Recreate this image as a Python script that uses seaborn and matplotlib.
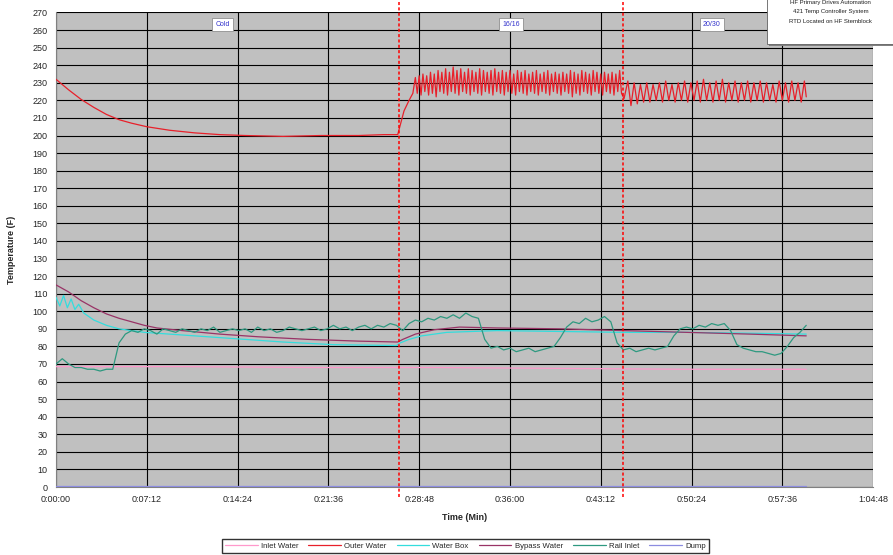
import matplotlib
matplotlib.use("Agg")
import pandas as pd
import seaborn as sns
import matplotlib.pyplot as plt
from matplotlib.patches import Rectangle

# times are in minutes
inlet_t = [0, 10, 20, 30, 40, 50, 59.5]
inlet_v = [68.5, 68.5, 68, 68, 67.5, 67, 67]

outer_a_t = [0, 1, 2, 3, 4, 5, 6, 7.2, 9, 11, 13, 15, 18, 21, 24, 26, 27.1]
outer_a_v = [232, 226, 220.5, 216, 212, 209, 207, 205, 203, 201.5, 200.5, 200,
             199.5, 200, 200, 200.5, 200.5]
# 16/16 cycling
outer_b_t = [27.3, 27.6, 28.0, 28.3,
             28.5, 28.65, 28.8, 28.95, 29.1, 29.25, 29.4, 29.55, 29.7, 29.85,
             30.0, 30.15, 30.3, 30.45, 30.6, 30.75, 30.9, 31.05, 31.2, 31.35,
             31.5, 31.65, 31.8, 31.95, 32.1, 32.25, 32.4, 32.55, 32.7, 32.85,
             33.0, 33.15, 33.3, 33.45, 33.6, 33.75, 33.9, 34.05, 34.2, 34.35,
             34.5, 34.65, 34.8, 34.95, 35.1, 35.25, 35.4, 35.55, 35.7, 35.85,
             36.0, 36.15, 36.3, 36.45, 36.6, 36.75, 36.9, 37.05, 37.2, 37.35,
             37.5, 37.65, 37.8, 37.95, 38.1, 38.25, 38.4, 38.55, 38.7, 38.85,
             39.0, 39.15, 39.3, 39.45, 39.6, 39.75, 39.9, 40.05, 40.2, 40.35,
             40.5, 40.65, 40.8, 40.95, 41.1, 41.25, 41.4, 41.55, 41.7, 41.85,
             42.0, 42.15, 42.3, 42.45, 42.6, 42.75, 42.9, 43.05, 43.2, 43.35,
             43.5, 43.65, 43.8, 43.95, 44.1, 44.25, 44.4, 44.55, 44.7, 44.85,
             45.05]
outer_b_v = [206, 214, 220, 224,
             233, 224, 234, 223, 235, 225, 234, 223, 236, 224,
             235, 222, 237, 225, 236, 224, 238, 223, 236, 225,
             239, 224, 237, 223, 238, 225, 236, 224, 238, 223,
             237, 225, 236, 224, 238, 223, 237, 225, 236, 224,
             237, 223, 238, 225, 236, 224, 237, 223, 236, 225,
             237, 224, 235, 223, 237, 225, 236, 224, 237, 223,
             235, 225, 236, 224, 237, 223, 235, 225, 236, 224,
             237, 223, 235, 225, 236, 224, 235, 223, 236, 225,
             235, 224, 237, 222, 236, 224, 235, 223, 237, 225,
             236, 224, 235, 223, 237, 225, 236, 224, 235, 223,
             236, 225, 235, 224, 236, 223, 235, 225, 237, 224,
             221]
# 20/30 cycling
outer_c_t = [45.35, 45.6, 45.85, 46.1, 46.35, 46.6, 46.85, 47.1, 47.35, 47.6,
             47.85, 48.1, 48.35, 48.6, 48.85, 49.1, 49.35, 49.6, 49.85, 50.1,
             50.35, 50.6, 50.85, 51.1, 51.35, 51.6, 51.85, 52.1, 52.35, 52.6,
             52.85, 53.1, 53.35, 53.6, 53.85, 54.1, 54.35, 54.6, 54.85, 55.1,
             55.35, 55.6, 55.85, 56.1, 56.35, 56.6, 56.85, 57.1, 57.35, 57.6,
             57.85, 58.1, 58.35, 58.6, 58.85, 59.1, 59.35, 59.5]
outer_c_v = [231, 217, 230, 218, 229, 219, 230, 219, 229, 220,
             230, 219, 231, 220, 229, 219, 230, 220, 231, 219,
             230, 220, 231, 219, 232, 220, 230, 219, 231, 220,
             232, 219, 230, 220, 231, 219, 230, 220, 231, 219,
             230, 220, 231, 219, 230, 220, 229, 219, 231, 220,
             230, 219, 231, 220, 230, 219, 231, 222]

box_t = [0, 0.3, 0.6, 0.9, 1.2, 1.5, 1.8, 2.2, 3, 4, 5, 7, 10, 14, 18, 22, 27,
         27.3, 28, 29, 31, 35, 40, 45, 50, 55, 59.5]
box_v = [108, 103, 109, 102, 107, 101, 104, 99, 95, 92, 90, 88, 86.5, 84.5, 82.5,
         81, 80.5, 82, 84, 86, 88, 89, 88.5, 88, 88, 87.5, 87]

bypass_t = [0, 1, 2, 3, 4, 5, 6, 7, 8, 10, 13, 16, 20, 24, 27.1, 27.5, 28.5, 30,
            32, 35, 40, 45, 50, 55, 59.5]
bypass_v = [115, 111, 106, 102, 98.5, 96, 94, 92, 90.5, 89, 87, 85.5, 84, 83, 82.5,
            84, 87, 89.5, 91, 90.5, 90, 89, 88, 87, 86]

rail_t = [0, 0.5, 1, 1.5, 2, 2.5, 3, 3.5, 4, 4.5,
          5, 5.5, 6, 6.5, 7, 7.5, 8, 8.5, 9, 9.5,
          10, 10.5, 11, 11.5, 12, 12.5, 13, 13.5, 14, 14.5,
          15, 15.5, 16, 16.5, 17, 17.5, 18, 18.5, 19, 19.5,
          20, 20.5, 21, 21.5, 22, 22.5, 23, 23.5, 24, 24.5,
          25, 25.5, 26, 26.5, 27, 27.5, 28, 28.5, 29, 29.5,
          30, 30.5, 31, 31.5, 32, 32.5, 33, 33.5, 34, 34.5,
          35, 35.5, 36, 36.5, 37, 37.5, 38, 38.5, 39, 39.5,
          40, 40.5, 41, 41.5, 42, 42.5, 43, 43.5, 44, 44.5,
          45, 45.5, 46, 46.5, 47, 47.5, 48, 48.5, 49, 49.5,
          50, 50.5, 51, 51.5, 52, 52.5, 53, 53.5, 54, 54.5,
          55, 55.5, 56, 56.5, 57, 57.5, 58, 58.5, 59, 59.5]
rail_v = [70, 73, 70, 68, 68, 67, 67, 66, 67, 67,
          82, 87, 89, 88, 90, 89, 87, 90, 89, 88,
          90, 89, 88, 90, 89, 91, 88, 89, 90, 89,
          90, 88, 91, 89, 90, 88, 89, 91, 90, 89,
          90, 91, 89, 90, 92, 90, 91, 89, 91, 92,
          90, 92, 91, 93, 92, 89, 93, 95, 94, 96,
          95, 97, 96, 98, 96, 99, 97, 96, 84, 79,
          80, 78, 79, 77, 78, 79, 77, 78, 79, 80,
          85, 91, 94, 93, 96, 94, 95, 97, 94, 82,
          78, 79, 77, 78, 79, 78, 79, 80, 86, 90,
          91, 90, 92, 91, 93, 92, 93, 89, 81, 79,
          78, 77, 77, 76, 75, 76, 80, 85, 88, 92]

dump_t = [0, 59.5]
dump_v = [0.5, 0.5]

series_names = ["Inlet Water", "Outer Water", "Water Box", "Bypass Water", "Rail Inlet", "Dump"]
series_colors = ["#FF99CC", "#E8202A", "#33DDDD", "#993366", "#2E9980", "#8C8CE0"]

x_ticks = [0, 7.2, 14.4, 21.6, 28.8, 36.0, 43.2, 50.4, 57.6, 64.8]
x_labels = ["0:00:00", "0:07:12", "0:14:24", "0:21:36", "0:28:48", "0:36:00",
            "0:43:12", "0:50:24", "0:57:36", "1:04:48"]
phase_times = [27.2, 45.0]
phase_labels = ["Cold", "16/16", "20/30"]
phase_label_t = [13.2, 36.1, 52.0]

frames = []
for name, t, v in [("Inlet Water", inlet_t, inlet_v),
                   ("Outer Water", outer_a_t + outer_b_t + outer_c_t, outer_a_v + outer_b_v + outer_c_v),
                   ("Water Box", box_t, box_v),
                   ("Bypass Water", bypass_t, bypass_v),
                   ("Rail Inlet", rail_t, rail_v),
                   ("Dump", dump_t, dump_v)]:
    frames.append(pd.DataFrame({"time": t, "temp": v, "series": name}))
df = pd.concat(frames, ignore_index=True)

sns.set_style("white")
plt.rcParams["font.family"] = ["Liberation Sans", "DejaVu Sans"]

fig = plt.figure(figsize=(8.93, 5.55), dpi=100)
ax = fig.add_axes([0.0627, 0.1225, 0.915, 0.855])
ax.set_facecolor("#C0C0C0")

sns.lineplot(data=df, x="time", y="temp", hue="series", hue_order=series_names,
             palette=dict(zip(series_names, series_colors)), estimator=None,
             sort=False, linewidth=0.9, ax=ax, legend=False, zorder=3)

ax.set_xlim(0, 64.8)
ax.set_ylim(0, 270)
ax.set_xticks(x_ticks)
ax.set_xticklabels(x_labels, fontsize=6.5)
ax.set_yticks(range(0, 271, 10))
ax.set_yticklabels([str(v) for v in range(0, 271, 10)], fontsize=6.5)
ax.tick_params(axis="both", length=3, width=0.8, color="black", pad=3, direction="out")
ax.grid(True, color="black", linewidth=0.8)
ax.set_axisbelow(True)
for s in ["top", "right"]:
    ax.spines[s].set_visible(False)
for s in ["left", "bottom"]:
    ax.spines[s].set_color("#808080")
    ax.spines[s].set_linewidth(0.8)

ax.set_xlabel("Time (Min)", fontsize=6.5, fontweight="bold", labelpad=6)
ax.set_ylabel("Temperature (F)", fontsize=6.5, fontweight="bold", labelpad=12)

for pt in phase_times:
    ax.axvline(pt, ymin=-0.022, ymax=1.03, color="red", linestyle=(0, (2, 1.5)),
               linewidth=1.1, clip_on=False, zorder=5)

for lab, lt in zip(phase_labels, phase_label_t):
    ax.text(lt, 263, lab, fontsize=5, color="#3333CC", ha="center", va="center",
            zorder=6,
            bbox=dict(boxstyle="square,pad=0.45", facecolor="white", edgecolor="#909090",
                      linewidth=0.6))

# note box in the top right corner
fig.patches.append(Rectangle((0.861, 0.917), 0.14, 0.1, transform=fig.transFigure,
                             facecolor="#808080", edgecolor="none", zorder=8))
fig.patches.append(Rectangle((0.859, 0.921), 0.145, 0.1, transform=fig.transFigure,
                             facecolor="white", edgecolor="#606060", linewidth=0.6, zorder=9))
note_lines = ["HF Primary Drives Automation", "421 Temp Controller System",
              "RTD Located on HF Stemblock"]
for i, line in enumerate(note_lines):
    fig.text(0.93, 0.995 - i * 0.0165, line, fontsize=4.3, ha="center", va="center",
             color="#202020", zorder=10)

handles = [plt.Line2D([], [], color=c, linewidth=0.9) for c in series_colors]
fig.legend(handles, series_names, loc="center", bbox_to_anchor=(0.521, 0.016), ncol=6,
           fontsize=5.6, frameon=True, fancybox=False, edgecolor="black",
           handlelength=4.2, columnspacing=1.3, handletextpad=0.4, borderpad=0.4)

fig.savefig("out.png", dpi=100)
